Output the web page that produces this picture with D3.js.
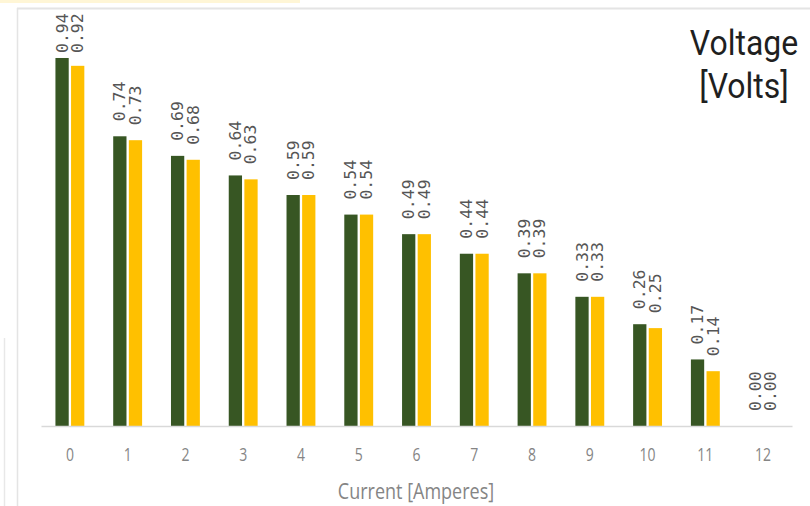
<!DOCTYPE html>
<html>
<head>
<meta charset="utf-8">
<script src="https://cdn.jsdelivr.net/npm/d3@7"></script>
<style>
  html, body { margin: 0; padding: 0; background: #fff; }
  svg { display: block; }
</style>
</head>
<body>
<svg id="chart" width="810" height="506"></svg>
<script>
// Current steps (A) on the x axis
const currents = ["0","1","2","3","4","5","6","7","8","9","10","11","12"];
// Two measured voltage series (V)
const voltageA = [0.94,0.74,0.69,0.64,0.59,0.54,0.49,0.44,0.39,0.33,0.26,0.17,0.00];
const voltageB = [0.92,0.73,0.68,0.63,0.59,0.54,0.49,0.44,0.39,0.33,0.25,0.14,0.00];
const seriesNames = ["A","B"];
const seriesColors = ["#375623","#FFC000"];
const titleLines = ["Voltage", "[Volts]"];

const svg = d3.select("#chart");
const W = 810, H = 506;

// Outer frame pieces
svg.append("rect").attr("x",0).attr("y",0).attr("width",300).attr("height",3).attr("fill","#fff6d6");
svg.append("line").attr("x1",17).attr("x2",W).attr("y1",8.5).attr("y2",8.5).attr("stroke","#e4e4e4").attr("stroke-width",2);
svg.append("line").attr("x1",17.5).attr("x2",17.5).attr("y1",8).attr("y2",H).attr("stroke","#e4e4e4").attr("stroke-width",1.5);
svg.append("line").attr("x1",4.5).attr("x2",4.5).attr("y1",338).attr("y2",H).attr("stroke","#e8e8e8").attr("stroke-width",1.5);

const plot = { left: 41, right: 792, top: 10, base: 426 };

const x = d3.scaleBand().domain(currents).range([plot.left, plot.right]).paddingInner(0.5).paddingOuter(0.25);
const xs = d3.scaleBand().domain(seriesNames).range([0, x.bandwidth()]).paddingInner(0.15);
const y = d3.scaleLinear().domain([0, 1]).range([plot.base, plot.base - 391.5]);

const rows = currents.map((c, i) => ({ c, vals: [voltageA[i], voltageB[i]] }));

const groups = svg.append("g").selectAll("g").data(rows).join("g")
  .attr("transform", d => `translate(${x(d.c)},0)`);

groups.selectAll("rect").data(d => d.vals.map((v, k) => ({ v, k })))
  .join("rect")
  .attr("x", d => xs(seriesNames[d.k]))
  .attr("width", xs.bandwidth())
  .attr("y", d => y(d.v))
  .attr("height", d => y(0) - y(d.v))
  .attr("fill", d => seriesColors[d.k]);

// Rotated value labels above each bar
const labelLen = 39;
groups.selectAll("text").data(d => d.vals.map((v, k) => ({ v, k })))
  .join("text")
  .attr("transform", d => {
    const cx = xs(seriesNames[d.k]) + xs.bandwidth() / 2;
    const end = Math.max(y(d.v) - 15, 14 + labelLen);
    return `translate(${cx + 5.5},${end}) rotate(-90)`;
  })
  .attr("text-anchor", "start")
  .attr("font-family", "DejaVu Sans Mono, monospace")
  .attr("font-size", 16.5)
  .attr("fill", "#555555")
  .text(d => d.v.toFixed(2));

// X axis
const axis = svg.append("g").attr("transform", `translate(0,${plot.base})`)
  .call(d3.axisBottom(x).tickSize(0).tickFormat(() => ""));
axis.select(".domain").attr("stroke", "#d9d9d9").attr("stroke-width", 1.5);

// Tick labels, drawn slightly tall
svg.append("g").selectAll("text").data(currents).join("text")
  .attr("transform", d => `translate(${x(d) + x.bandwidth() / 2},461) scale(1,1.3)`)
  .attr("text-anchor", "middle")
  .attr("font-family", "Open Sans, sans-serif").attr("font-size", 14).attr("fill", "#858585")
  .text(d => d);

svg.append("text").attr("transform", "translate(416,499) scale(1,1.2)").attr("text-anchor", "middle")
  .attr("font-family", "Open Sans, sans-serif").attr("font-size", 18).attr("fill", "#858585")
  .text("Current [Amperes]");

// Two-line title in the top-right corner
const sy = 1.12;
svg.append("g").selectAll("text").data(titleLines).join("text")
  .attr("transform", (d, i) => `translate(744,${55 + i * 43}) scale(1,${sy})`)
  .attr("text-anchor", "middle")
  .attr("font-family", "Roboto, sans-serif").attr("font-size", 32).attr("fill", "#1f1f1f")
  .text(d => d);
</script>
</body>
</html>
